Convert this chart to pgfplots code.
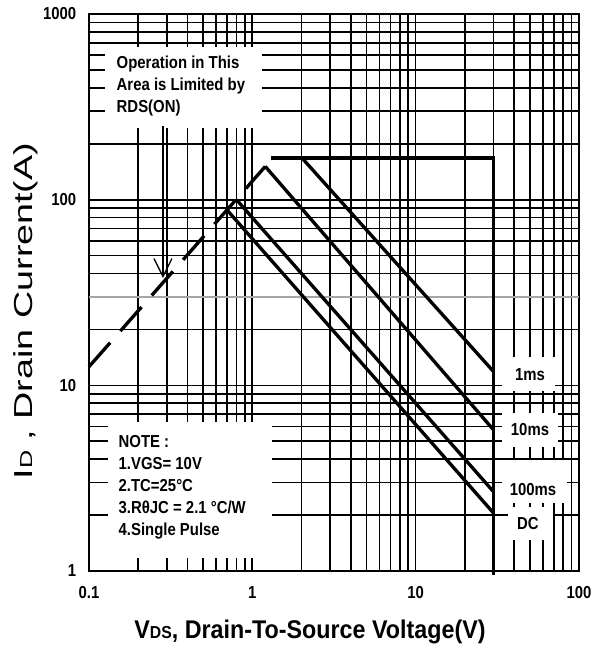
\documentclass[border=0pt]{standalone}
\usepackage{fontspec}
\setmainfont{Liberation Sans}[FakeStretch=0.86]
\newfontfamily\xlabfont{Liberation Sans}[FakeStretch=0.91]
\newfontfamily\ylabfont{Liberation Sans}[FakeStretch=1.45]
\usepackage{pgfplots}
\pgfplotsset{compat=1.18}
\usetikzlibrary{arrows.meta}

\begin{document}
\begin{tikzpicture}
\useasboundingbox (-66.75pt,-62.25pt) rectangle (377.25pt,428.25pt);
\begin{axis}[
    at={(0,0)}, anchor=south west,
    xmode=log, ymode=log,
    width=367.5pt, height=417.75pt, scale only axis,
    xmin=0.1, xmax=100, ymin=1, ymax=1000,
    xtick={0.1,1,10,100}, xticklabels={0.1,1,10,100},
    ytick={1,10,100,1000}, yticklabels={1,10,100,1000},
    minor xtick={0.2,0.3,0.4,0.5,0.6,0.7,0.8,0.9,2,3,4,5,6,7,8,9,20,30,40,50,60,70,80,90},
    minor ytick={2,3,4,5,6,7,8,9,20,30,40,50,60,70,80,90,200,300,400,500,600,700,800,900},
    grid=both,
    major grid style={black, line width=1.25pt},
    minor grid style={black, line width=1.25pt},
    axis line style={line width=1.7pt},
    major tick length=0pt, minor tick length=0pt,
    ticklabel style={font=\fontsize{13}{15}\selectfont\bfseries},
    /pgf/number format/assume math mode=true,
    xticklabel style={yshift=-8pt},
    yticklabel style={xshift=-6pt},
    xlabel={V{\fontsize{13}{15}\selectfont DS}, Drain-To-Source Voltage(V)},
    ylabel={I{\fontsize{13}{15}\selectfont D} , Drain Current(A)},
    xlabel style={at={(axis description cs:0.451,-0.1203)}, anchor=base,
        font=\xlabfont\fontsize{19.2}{22}\selectfont\bfseries},
    ylabel style={at={(axis description cs:-0.1163,0.4668)}, anchor=base,
        font=\ylabfont\fontsize{19.5}{22}\selectfont},
    clip=false,
]

% grey 30 A line
\addplot[gray!70, line width=1.25pt] coordinates {(0.1,30) (100,30)};

% white boxes behind the notes
\fill[white] (rel axis cs:0.0327,0.795) rectangle (rel axis cs:0.353,0.941);
\fill[white] (rel axis cs:0.0388,0.0233) rectangle (rel axis cs:0.3735,0.2675);
\fill[white] (rel axis cs:0.8429,0.3232) rectangle (rel axis cs:0.9510,0.3842);
\fill[white] (rel axis cs:0.8429,0.2226) rectangle (rel axis cs:0.9571,0.2837);
\fill[white] (rel axis cs:0.8429,0.1221) rectangle (rel axis cs:0.9755,0.1993);
\fill[white] (rel axis cs:0.8551,0.0557) rectangle (rel axis cs:0.9469,0.1149);

% RDS(on) limit
\addplot[black, line width=2.5pt, dash pattern=on 24pt off 11.6pt] coordinates {(0.1,12.6) (1.2,151)};
% current and voltage limit
\addplot[black, line width=2.5pt] coordinates {(1.31,168) (30,168) (30,0.95)};
% 1ms
\addplot[black, line width=2.5pt] coordinates {(2.01,168) (30,11.85)};
% 10ms
\addplot[black, line width=2.5pt] coordinates {(1.2,151) (30,5.75)};
% 100ms
\addplot[black, line width=2.5pt] coordinates {(0.8,100) (30,2.67)};
% DC
\addplot[black, line width=2.5pt] coordinates {(0.7,88) (30,2.05)};

\begin{scope}[font=\fontsize{13}{16.5}\selectfont\bfseries]
\node[anchor=west, align=left] at (rel axis cs:0.047,0.871)
    {Operation in This\\Area is Limited by\\RDS(ON)};
\node[anchor=west, align=left] at (rel axis cs:0.051,0.1508)
    {NOTE :\\1.VGS= 10V\\2.TC=25°C\\3.RθJC = 2.1 °C/W\\4.Single Pulse};
\node at (rel axis cs:0.9,0.3519) {1ms};
\node at (rel axis cs:0.9,0.2531) {10ms};
\node at (rel axis cs:0.9061,0.1454) {100ms};
\node at (rel axis cs:0.8959,0.0844) {DC};
\end{scope}

\draw[line width=1pt, -{Straight Barb[length=13.5pt, width=13.5pt, line width=1pt]}]
    (rel axis cs:0.151,0.799) -- (rel axis cs:0.151,0.526);

\end{axis}
\end{tikzpicture}
\end{document}
